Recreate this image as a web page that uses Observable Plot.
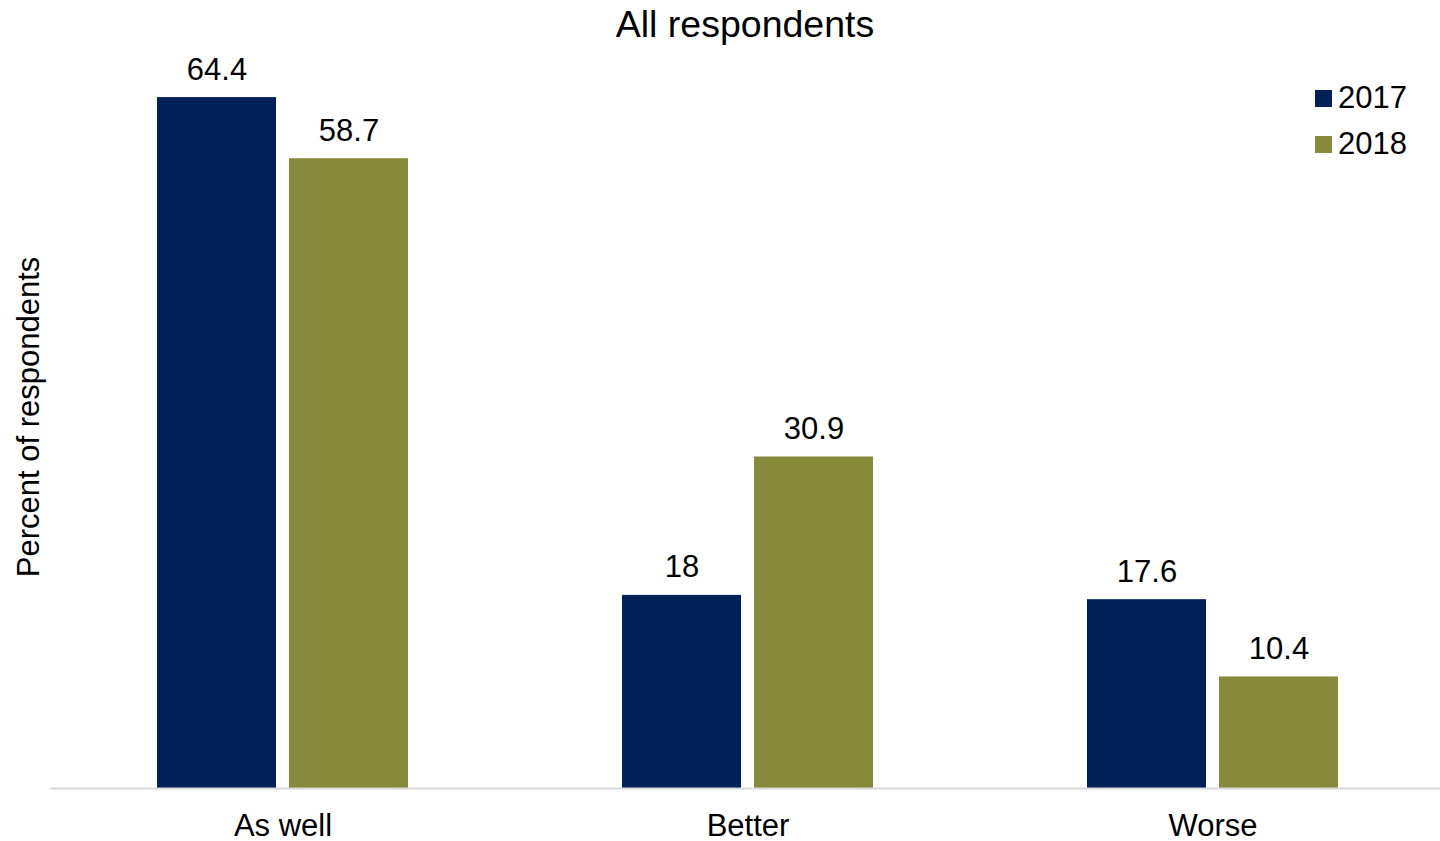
<!DOCTYPE html>
<html>
<head>
<meta charset="utf-8">
<script src="https://cdn.jsdelivr.net/npm/d3@7"></script>
<script src="https://cdn.jsdelivr.net/npm/@observablehq/plot@0.6"></script>
<style>
  html, body { margin: 0; padding: 0; background: #fff; overflow: hidden; }
  body { font-family: "Liberation Sans", Arial, sans-serif; color: #000; }
  #wrap { position: relative; width: 1446px; height: 841px; }
  #chart { position: absolute; left: 0; top: 0; width: 1446px; }
  #chart svg { max-width: none; }
  #title { position: absolute; left: 0; width: 1490px; top: 3px; text-align: center; font-size: 37.5px; line-height: 42px; }
  #ylabel { position: absolute; left: 29px; top: 417px; transform: translate(-50%, -50%) rotate(-90deg); white-space: nowrap; font-size: 31px; line-height: 34px; }
  #legend { position: absolute; left: 1315px; top: 75px; font-size: 31px; line-height: 46px; }
  #legend .item { display: flex; align-items: center; }
  #legend .sw { width: 17px; height: 17px; margin-right: 6px; }
</style>
</head>
<body>
<div id="wrap">
  <div id="chart"></div>
  <div id="title">All respondents</div>
  <div id="ylabel">Percent of respondents</div>
  <div id="legend"></div>
</div>
<script>
// Survey answers, grouped by category, one bar per year
const categories = ["As well", "Better", "Worse"];
const years = ["2017", "2018"];
const values2017 = [64.4, 18, 17.6];
const values2018 = [58.7, 30.9, 10.4];
const colors = ["#002157", "#868a3a"];

const data = categories.flatMap((c, i) => [
  {category: c, year: years[0], value: values2017[i]},
  {category: c, year: years[1], value: values2018[i]}
]);

const chart = Plot.plot({
  width: 1446,
  height: 841,
  marginLeft: 49,
  marginRight: 0,
  marginTop: 37,
  marginBottom: 53,
  style: {fontFamily: "'Liberation Sans', Arial, sans-serif", fontSize: "31px", color: "#000", background: "#fff", maxWidth: "none"},
  fx: {domain: categories, padding: 0, label: null, axis: "bottom", tickSize: 0, tickPadding: 25},
  x: {domain: years, paddingInner: 0.1, paddingOuter: 0.8, axis: null},
  y: {domain: [0, 70], axis: null},
  color: {domain: years, range: colors},
  marks: [
    Plot.barY(data, {fx: "category", x: "year", y: "value", fill: "year"}),
    Plot.ruleY([0], {stroke: "#d9d9d9", strokeWidth: 2}),
    Plot.text(data, {
      fx: "category", x: "year", y: "value", text: d => String(d.value),
      lineAnchor: "bottom", dy: -18, fill: "#000", fontSize: 31
    })
  ]
});
document.getElementById("chart").appendChild(chart);

// Legend
const legend = document.getElementById("legend");
years.forEach((y, i) => {
  const item = document.createElement("div");
  item.className = "item";
  item.innerHTML = `<span class="sw" style="background:${colors[i]}"></span><span>${y}</span>`;
  legend.appendChild(item);
});
</script>
</body>
</html>
